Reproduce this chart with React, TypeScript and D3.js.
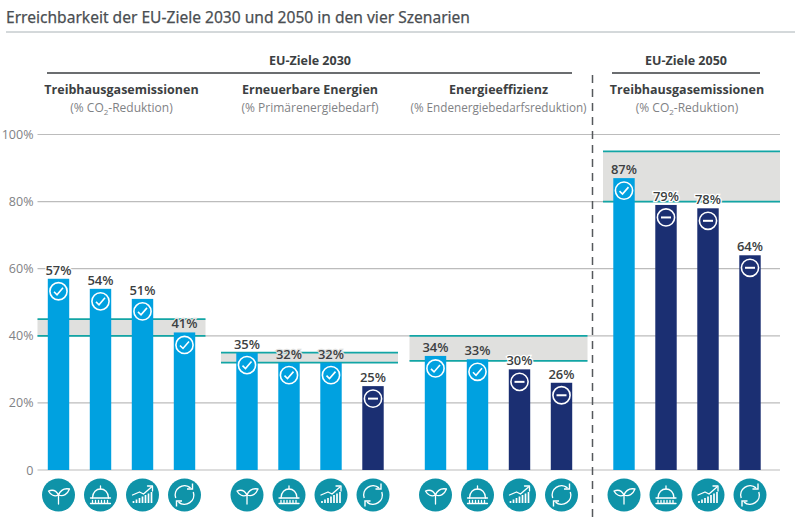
import React from 'react';
import * as d3 from 'd3';

const yTicks = [0, 20, 40, 60, 80, 100];
const groups = ['thg2030', 'ee2030', 'eff2030', 'thg2050'];
const scenarios = ['Biomasse', 'Politik', 'Wachstum', 'Kreislauf'];
const headings = ['Treibhausgasemissionen', 'Erneuerbare Energien', 'Energieeffizienz', 'Treibhausgasemissionen'];
const subPrefix = ['(% CO', '(% Primärenergiebedarf)', '(% Endenergiebedarfsreduktion)', '(% CO'];
const thg2030 = [57, 54, 51, 41];
const ee2030 = [35, 32, 32, 25];
const eff2030 = [34, 33, 30, 26];
const thg2050 = [87, 79, 78, 64];
const seriesValues = [thg2030, ee2030, eff2030, thg2050];
const targetLow = [40, 32, 32.5, 80];
const targetHigh = [45, 35, 40, 95];

const width = 800;
const height = 519;
const BLUE = '#00a1e0';
const NAVY = '#1b2f72';
const TEAL = '#12a5a5';
const ICON = '#0f93a8';
const BAND = '#e0e0de';
const DARK = '#3c3f42';
const GREY = '#7f8285';
const FONT = '"Open Sans", sans-serif';

const y = d3.scaleLinear().domain([0, 100]).range([470, 134.5]);
const xGroup = d3.scaleBand().domain(groups).range([37.5, 791.5]);
const xBar = d3.scaleBand().domain(scenarios).range([0, 168]).paddingInner(0.49).paddingOuter(0.245);

// how far each target band sticks out left / right of its group
const bandLeft = [0, -5, -5, 0];
const bandRight = [0, 4, 5, 9];

const ringArc = d3.arc()({ innerRadius: 8.6, outerRadius: 10, startAngle: -1.9, endAngle: 0.7 }) as string;

// small pictograms below the axis, drawn in a 33px circle
const Pictogram = ({ kind }: { kind: number }) => {
  const line = { fill: 'none', stroke: '#fff', strokeWidth: 1.3, strokeLinecap: 'round' as const, strokeLinejoin: 'round' as const };
  if (kind === 0) {
    return (
      <g {...line}>
        <path d="M0 9 V-1" />
        <path d="M0 0 C-2 -4 -5 -6 -10 -4 C-8 0 -4 2 0 0" />
        <path d="M0 0 C2 -5 6 -7 11 -6 C9 -1 5 2 0 0" />
      </g>
    );
  }
  if (kind === 1) {
    return (
      <g {...line}>
        <path d="M-8 3 C-8 -3 -4 -6 0 -6 C4 -6 8 -3 8 3" />
        <path d="M-10 3 H10 M-10 8.5 H10" />
        <path d="M-8 5.5 V7.5 M-5 5.5 V7.5 M-2 5.5 V7.5 M1 5.5 V7.5 M4 5.5 V7.5 M7 5.5 V7.5" />
        <path d="M0 -6 V-9" />
      </g>
    );
  }
  if (kind === 2) {
    return (
      <g {...line}>
        {[-9, -6, -3, 0, 3, 6, 9].map((dx, i) => (
          <path key={dx} d={`M${dx} 8 V${6 - i * 1.5}`} strokeWidth={1.7} strokeLinecap="butt" />
        ))}
        <path d="M-10 0 L-3 -3 L1 -1 L9 -8" />
        <path d="M5 -9 L10 -9 L10 -4" />
      </g>
    );
  }
  return (
    <g>
      <path d={ringArc} fill="#fff" />
      <path d={ringArc} fill="#fff" transform="rotate(180)" />
      <path d="M8 -11.5 V-6 H2.5" fill="none" stroke="#fff" strokeWidth={1.4} />
      <path d="M-8 11.5 V6 H-2.5" fill="none" stroke="#fff" strokeWidth={1.4} />
    </g>
  );
};

const App = () => {
  return (
    <svg width={width} height={height} viewBox={`0 0 ${width} ${height}`} fontFamily={FONT} style={{ position: 'absolute', left: 0, top: 0, background: '#fff' }}>
      <text x={6} y={23} fontSize={17} fontFamily='"Noto Sans", sans-serif' fill="#4a4e52" stroke="#4a4e52" strokeWidth={0.25} textLength={464} lengthAdjust="spacingAndGlyphs">
        Erreichbarkeit der EU-Ziele 2030 und 2050 in den vier Szenarien
      </text>
      <line x1={6} x2={795} y1={32} y2={32} stroke="#a9b2b6" strokeWidth={1} />

      <text x={310} y={65} textAnchor="middle" fontSize={12.5} fontWeight={700} fill={DARK}>EU-Ziele 2030</text>
      <text x={686} y={65} textAnchor="middle" fontSize={12.5} fontWeight={700} fill={DARK}>EU-Ziele 2050</text>
      <line x1={47} x2={572} y1={73} y2={73} stroke="#6b6d70" strokeWidth={1.8} />
      <line x1={612} x2={760} y1={73} y2={73} stroke="#6b6d70" strokeWidth={1.8} />

      {yTicks.map(t => (
        <g key={t}>
          <line x1={37.5} x2={780} y1={y(t)} y2={y(t)} stroke="#bcbcbc" strokeWidth={1.2} />
          <text x={33.5} y={y(t) + 4.5} textAnchor="end" fontSize={12.5} fill={GREY}>{t === 0 ? '0' : `${t}%`}</text>
        </g>
      ))}

      {groups.map((g, gi) => {
        const gx = xGroup(g) as number;
        const cx = gx + 84;
        const bx0 = gx + bandLeft[gi];
        const bx1 = gx + 168 + bandRight[gi];
        return (
          <g key={g}>
            <text x={cx} y={94} textAnchor="middle" fontSize={12.5} fontWeight={700} fill={DARK}>{headings[gi]}</text>
            <text x={cx} y={112} textAnchor="middle" fontSize={gi === 2 ? 11.7 : 12} fill={GREY}>
              {subPrefix[gi]}
              {subPrefix[gi].endsWith('CO') && (
                <>
                  <tspan fontSize={8} dy={3}>2</tspan>
                  <tspan dy={-3}>-Reduktion)</tspan>
                </>
              )}
            </text>
            <rect x={bx0} width={bx1 - bx0} y={y(targetHigh[gi])} height={y(targetLow[gi]) - y(targetHigh[gi])} fill={BAND} />
            <line x1={bx0} x2={bx1} y1={y(targetHigh[gi])} y2={y(targetHigh[gi])} stroke={TEAL} strokeWidth={1.8} />
            <line x1={bx0} x2={bx1} y1={y(targetLow[gi])} y2={y(targetLow[gi])} stroke={TEAL} strokeWidth={1.8} />
            {seriesValues[gi].map((v, i) => {
              const bx = gx + (xBar(scenarios[i]) as number);
              const bw = xBar.bandwidth();
              const met = v >= targetLow[gi];
              const inBand = v >= targetLow[gi] && v < targetHigh[gi];
              return (
                <g key={scenarios[i]}>
                  <rect x={bx} y={y(v)} width={bw} height={y(0) - y(v)} fill={met ? BLUE : NAVY} />
                  <text x={bx + bw / 2} y={y(v) - 4} textAnchor="middle" fontSize={13} fontWeight={600} fill={DARK} stroke={inBand ? BAND : '#fff'} strokeWidth={2.5} paintOrder="stroke">{v}%</text>
                  <g transform={`translate(${bx + bw / 2},${y(v) + 12.5})`}>
                    <circle r={8.6} fill="none" stroke="#fff" strokeWidth={1.6} />
                    {met
                      ? <path d="M-4.5 0.5 L-1.5 3.5 L4.5 -3.5" fill="none" stroke="#fff" strokeWidth={1.6} />
                      : <path d="M-5 0 H5" fill="none" stroke="#fff" strokeWidth={2} />}
                  </g>
                  <g transform={`translate(${bx + bw / 2},495)`}>
                    <circle r={16.5} fill={ICON} />
                    <Pictogram kind={i} />
                  </g>
                </g>
              );
            })}
          </g>
        );
      })}

      <line x1={592.5} x2={592.5} y1={75} y2={519} stroke="#55585b" strokeWidth={1.5} strokeDasharray="8 6" />
    </svg>
  );
};

export default App;
